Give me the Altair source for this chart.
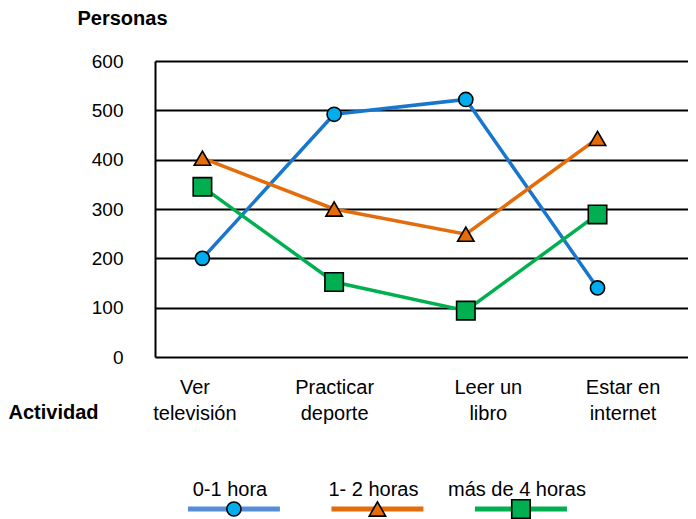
import altair as alt
import pandas as pd

categories = ["Ver\ntelevisión", "Practicar\ndeporte", "Leer un\nlibro", "Estar en\ninternet"]
series = ["0-1 hora", "1- 2 horas", "más de 4 horas"]
values_0_1 = [200, 492, 522, 140]
values_1_2 = [403, 300, 249, 443]
values_4mas = [345, 152, 94, 289]
y_ticks = [0, 100, 200, 300, 400, 500, 600]

line_colors = ["#1877CC", "#E46C0A", "#00B050"]
fill_colors = ["#00AEEF", "#E46C0A", "#00B050"]
legend_line_colors = ["#568DD6", "#E46C0A", "#00B050"]
shapes = ["circle", "triangle-up", "square"]
sizes = [200, 340, 330]

FONT = "Liberation Sans"

rows = []
for s, vals in zip(series, [values_0_1, values_1_2, values_4mas]):
    for i, v in enumerate(vals):
        rows.append({"serie": s, "idx": i, "personas": v})
df = pd.DataFrame(rows)

label_lines = [c.split("\n") for c in categories]
label_expr = "[" + ",".join(
    "[" + ",".join("'" + p + "'" for p in parts) + "]" for parts in label_lines
) + "][datum.value]"

W = 533
H = 296

x_scale = alt.Scale(domain=[-0.36, 3.687], nice=False, zero=False)
y_scale = alt.Scale(domain=[0, 600], nice=False)

x_enc = alt.X(
    "idx:Q",
    scale=x_scale,
    axis=alt.Axis(
        values=[0, 1, 2, 3],
        labelExpr=label_expr,
        title="Actividad",
        titleFont=FONT,
        titleFontSize=20,
        titleFontWeight="bold",
        titleColor="black",
        titleAlign="left",
        titleAnchor="start",
        titleBaseline="alphabetic",
        titleX=-147,
        titleY=61,
        labelFont=FONT,
        labelFontSize=20,
        labelColor="black",
        labelBaseline="top",
        labelLineHeight=26,
        labelPadding=20,
        labelOffset={"condition": [
            {"test": "datum.value == 0", "value": -8},
            {"test": "datum.value == 2", "value": 22},
            {"test": "datum.value == 3", "value": 25},
        ], "value": 0},
        ticks=False,
        grid=False,
        domain=False,
    ),
)
y_enc = alt.Y(
    "personas:Q",
    scale=y_scale,
    axis=alt.Axis(
        values=y_ticks,
        title="Personas",
        titleAngle=0,
        titleFont=FONT,
        titleFontSize=20,
        titleFontWeight="bold",
        titleColor="black",
        titleAlign="center",
        titleBaseline="alphabetic",
        titleX=-33,
        titleY=-37,
        labelFont=FONT,
        labelFontSize=19,
        labelColor="black",
        labelPadding=32,
        ticks=False,
        grid=True,
        gridColor="black",
        gridWidth=2,
        gridOpacity=1,
        domain=True,
        domainColor="black",
        domainWidth=2,
    ),
)

color_scale = alt.Scale(domain=series, range=line_colors)
fill_scale = alt.Scale(domain=series, range=fill_colors)
shape_scale = alt.Scale(domain=series, range=shapes)
size_scale = alt.Scale(domain=series, range=sizes)

base = alt.Chart(df).encode(x=x_enc, y=y_enc)

lines = base.mark_line(strokeWidth=3.5).encode(
    color=alt.Color("serie:N", scale=color_scale, legend=None),
    detail="serie:N",
)
points = base.mark_point(filled=True, opacity=1, stroke="black", strokeWidth=1.6).encode(
    fill=alt.Fill("serie:N", scale=fill_scale, legend=None),
    shape=alt.Shape("serie:N", scale=shape_scale, legend=None),
    size=alt.Size("serie:N", scale=size_scale, legend=None),
)

main = alt.layer(lines, points).properties(width=W, height=H)

# custom legend (labels above symbols)
leg_df = pd.DataFrame({"serie": series, "idx": list(range(len(series)))})
LH = 44
leg_x = alt.X("idx:Q", scale=alt.Scale(domain=[-0.55, 3.164], nice=False, zero=False), axis=None)
leg_base = alt.Chart(leg_df).encode(x=leg_x)
leg_lines = leg_base.mark_tick(orient="horizontal", size=92, thickness=5, opacity=1).encode(
    y=alt.value(35),
    color=alt.Color("serie:N", scale=alt.Scale(domain=series, range=legend_line_colors), legend=None),
)
leg_points = leg_base.mark_point(filled=True, opacity=1, stroke="black", strokeWidth=1.6).encode(
    y=alt.value(35),
    fill=alt.Fill("serie:N", scale=fill_scale, legend=None),
    shape=alt.Shape("serie:N", scale=shape_scale, legend=None),
    size=alt.Size("serie:N", scale=size_scale, legend=None),
)
leg_text = leg_base.mark_text(font=FONT, fontSize=20, color="black", baseline="alphabetic", dx=-4).encode(
    y=alt.value(22),
    text="serie:N",
)
legend = alt.layer(leg_lines, leg_text, leg_points).properties(width=W, height=LH)

chart = alt.vconcat(main, legend, spacing=51).resolve_scale(
    color="independent"
).properties(
    padding=0, background="white"
).configure_view(strokeWidth=0, stroke="transparent")

chart.save("out.html", embed_options={"renderer": "svg", "actions": False})
